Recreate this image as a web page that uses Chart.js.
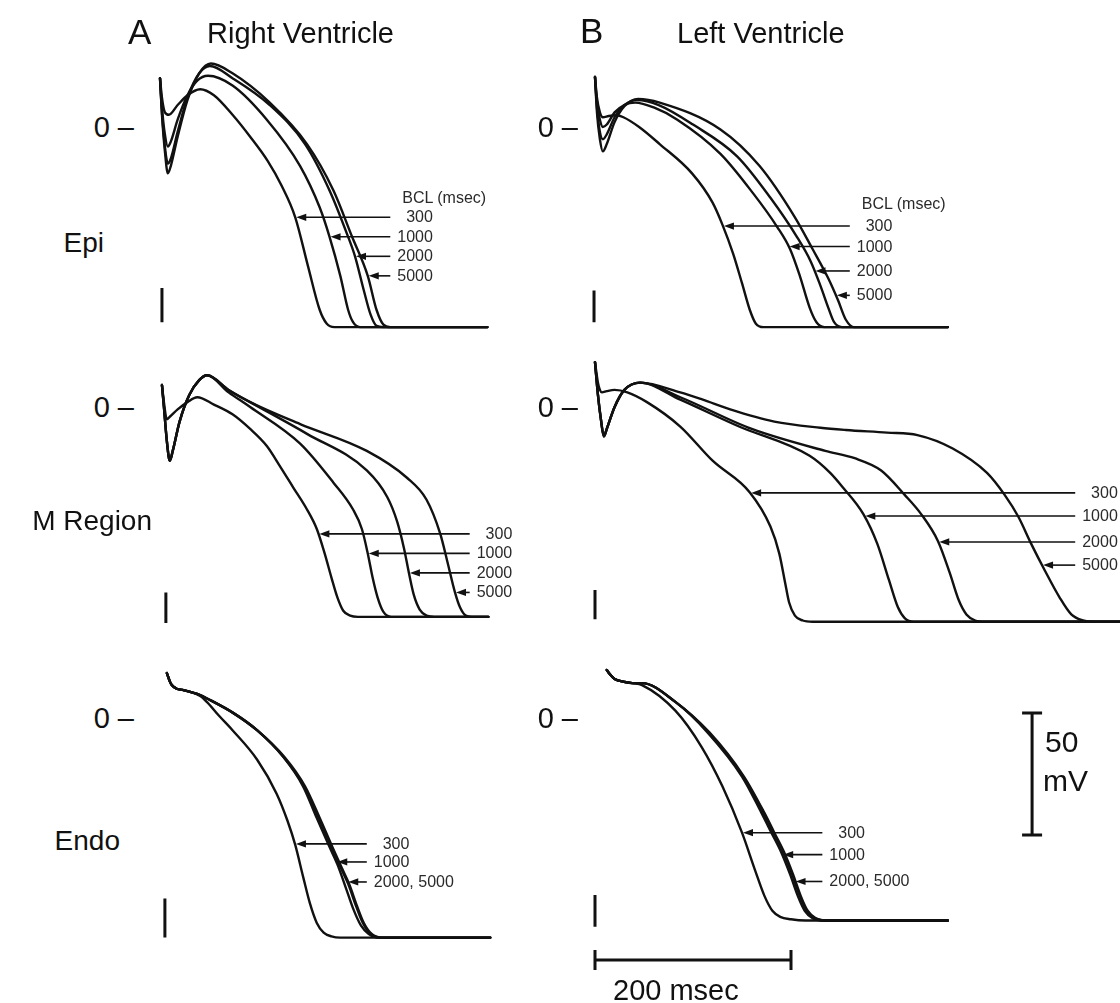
<!DOCTYPE html>
<html><head><meta charset="utf-8">
<script src="https://cdn.jsdelivr.net/npm/chart.js@4.4.1/dist/chart.umd.min.js"></script>
<style>
html,body{margin:0;padding:0;background:#fff;}
#fig{position:relative;width:1120px;height:1003px;overflow:hidden;font-family:"Liberation Sans",Arial,Helvetica,sans-serif;color:#111;}
#fig canvas{position:absolute;}
.t{position:absolute;white-space:nowrap;line-height:1;}
</style></head><body><div id="fig"></div>
<script>
// ---------------- DATA (time in ms after stimulus, membrane potential in mV) ----------------
// Right ventricle, epicardium
const rvEpi300  = [[0,20],[2,12],[5,6],[9,5],[18,9],[28,13],[41,15.5],[55,13],[74,5],[92,-4],[110,-14],[124,-24],[138,-37],[151,-57],[163,-75],[170,-80.5],[178,-82],[334,-82]];
const rvEpi1000 = [[0,20],[2,8],[5,-3],[8,-8],[11,-6],[18,3],[28,13],[38,19],[49,21],[74,17],[109,3],[143,-16],[163,-33],[173,-45],[184,-61],[192,-75],[197,-80],[204,-82],[334,-82]];
const rvEpi2000 = [[0,20],[2,6],[5,-8],[8,-15],[11,-13],[18,-2],[28,12],[40,22],[51,25],[74,20],[112,9],[148,-7],[173,-26],[191,-44],[199,-53],[208,-67],[215,-77],[221,-81.5],[228,-82],[334,-82]];
const rvEpi5000 = [[0,20],[2,5],[5,-10],[8,-19],[11,-16],[18,-4],[28,11],[40,22],[52,26],[74,22],[112,10],[150,-7],[177,-26],[196,-45],[212,-61],[221,-75],[228,-81],[235,-82],[334,-82]];
// Left ventricle, epicardium
const lvEpi300  = [[0,20.5],[2,12],[5,6],[8,4],[14,4.5],[22,4.8],[29,4],[45,0],[66,-7],[99,-19],[120,-31],[130,-40],[141,-52],[150,-64],[158,-75],[164,-80.5],[172,-82],[360,-82]];
const lvEpi1000 = [[0,20.5],[2,10],[5,3],[8,0],[12,1],[20,6],[30,9],[41,10],[60,8],[84,3],[128,-11],[161,-27],[186,-41],[199,-50],[209,-61],[219,-74],[226,-80],[234,-82],[360,-82]];
const lvEpi2000 = [[0,20.5],[2,8],[5,-2],[8,-5],[12,-3],[20,4],[30,9],[43,11],[65,9],[100,1],[145,-12],[179,-29],[206,-45],[220,-55],[230,-65],[238,-74],[244,-80],[252,-82],[360,-82]];
const lvEpi5000 = [[0,20.5],[2,6],[5,-5],[8,-10],[12,-7],[20,2],[30,8.5],[44,11.5],[66,10],[128,-1],[168,-16],[204,-37],[222,-50],[238,-62],[248,-71],[256,-79],[264,-82],[360,-82]];
// Right ventricle, M region
const rvM300  = [[2,9],[4,2],[7,-5],[10,-4],[18,-1],[28,2],[38,4],[55,1],[74,-3],[92,-9],[109,-16],[122,-24],[136,-33],[150,-42],[160,-50],[168,-60],[175,-70],[181,-78],[187,-83.5],[194,-85.5],[202,-86],[335,-86]];
const rvM1000 = [[2,9],[4,0],[7,-14],[10,-22],[13,-18],[20,-6],[30,5],[40,11],[48,13],[70,6],[92,0],[143,-15],[177,-31],[197,-42],[206,-50],[212,-60],[217,-70],[222,-78],[228,-84],[236,-86],[335,-86]];
const rvM2000 = [[2,9],[4,0],[7,-14],[10,-22],[13,-18],[20,-6],[30,5],[40,11],[48,13],[70,7],[92,2],[150,-11],[211,-26],[232,-37],[242,-47],[249,-58],[254,-68],[259,-77],[265,-83],[272,-85.5],[280,-86],[335,-86]];
const rvM5000 = [[2,9],[4,0],[7,-14],[10,-22],[13,-18],[20,-6],[30,5],[40,11],[48,13],[70,7],[92,2],[143,-7],[211,-18],[252,-29],[272,-38],[286,-52],[293,-63],[301,-76],[306,-82],[312,-85.5],[318,-86],[335,-86]];
// Left ventricle, M region
const lvM300  = [[0,18.4],[3,10],[5,7],[7,6],[12,6.5],[20,7],[33,6],[53,2],[87,-8],[120,-22],[158,-35],[179,-49],[188,-60],[194,-72],[198,-80],[204,-85.5],[212,-87.5],[222,-88],[536,-88]];
const lvM1000 = [[0,18.4],[3,5],[6,-5],[9,-12],[12,-9],[20,0],[30,7],[46,10],[87,3],[147,-8],[219,-20],[240,-27],[253,-33],[274,-44],[288,-56],[300,-71],[309,-82],[316,-86.5],[325,-88],[536,-88]];
const lvM2000 = [[0,18.4],[3,5],[6,-5],[9,-12],[12,-9],[20,0],[30,7],[46,10],[87,4],[160,-9],[235,-18],[265,-21],[292,-26],[316,-36],[333,-44],[350,-55],[362,-68],[371,-79],[379,-85],[388,-87.5],[398,-88],[536,-88]];
const lvM5000 = [[0,18.4],[3,5],[6,-5],[9,-12],[12,-9],[20,0],[30,7],[46,10],[87,6],[110,3],[138,-1],[183,-6],[230,-8.5],[256,-9.4],[298,-10.5],[329,-11.5],[365,-17],[400,-27],[418,-36],[432,-45],[445,-56],[459,-67],[474,-78],[486,-85],[498,-87.5],[510,-88],[536,-88]];
// Right ventricle, endocardium
const rvEndo300  = [[7,18.4],[10,15],[12,13.5],[17,12],[23,11.5],[41,9],[48,6.5],[60,1],[74,-5],[99,-17],[119,-31],[130,-42],[138,-52],[146,-65],[153,-76],[160,-84],[167,-88],[175,-89.5],[184,-90],[337,-90]];
const rvEndo1000 = [[7,18.4],[10,15],[12,13.5],[17,12],[23,11.5],[41,9.4],[48,8],[75,2],[99,-5],[126,-16],[146,-28],[160,-41],[172,-52],[181,-60],[190,-70],[197,-78],[205,-85],[213,-88.5],[224,-90],[337,-90]];
const rvEndo2000 = [[7,18.4],[10,15],[12,13.5],[17,12],[23,11.5],[41,9.4],[48,8],[75,2],[99,-5],[126,-16],[147,-28],[162,-41],[175,-53],[184,-61],[192,-68],[200,-77],[207,-84],[215,-88.5],[226,-90],[337,-90]];
const rvEndo5000 = [[7,18.4],[10,15],[12,13.5],[17,12],[23,11.5],[41,9.4],[48,8],[75,2],[99,-5],[127,-16],[148,-28],[163,-41],[176,-53],[185,-61],[193,-68],[201,-77],[208,-84],[216,-88.5],[227,-90],[337,-90]];
// Left ventricle, endocardium
const lvEndo300  = [[12,19.7],[15,18],[20,16],[30,14.8],[38,14.3],[48,13.5],[82,3],[109,-12],[130,-28],[150,-47],[163,-62],[173,-73],[181,-79],[189,-81.5],[200,-82.5],[215,-83],[360,-83]];
const lvEndo1000 = [[12,19.7],[15,18],[20,16],[30,14.8],[38,14.3],[48,14.3],[82,6.6],[115,-6],[150,-24],[170,-39],[180,-47],[190,-55],[199,-64],[207,-73],[214,-79],[222,-82],[235,-83],[360,-83]];
const lvEndo2000 = [[12,19.7],[15,18],[20,16],[30,14.8],[38,14.3],[48,14.3],[82,6.6],[116,-6],[151,-24],[172,-39],[182,-47],[192,-55],[201,-64],[209,-73],[216,-79],[224,-82],[237,-83],[360,-83]];
const lvEndo5000 = [[12,19.7],[15,18],[20,16],[30,14.8],[38,14.3],[48,14.3],[82,6.6],[117,-6],[152,-24],[173,-39],[183,-47],[193,-55],[202,-64],[210,-73],[217,-79],[225,-82],[238,-83],[360,-83]];

// Arrow levels (mV) pointing at each BCL trace, and labels
const rvEpiArrowV  = [-37, -45, -53, -61];
const lvEpiArrowV  = [-40.6, -49, -59, -69];
const rvMArrowV    = [-52, -60, -68, -76];
const lvMArrowV    = [-35.2, -44.7, -55.3, -64.8];
const rvEndoArrowV = [-51.6, -59, -67.2];
const lvEndoArrowV = [-47, -56, -67];
const bclLabels  = ['300', '1000', '2000', '5000'];
const endoLabels = ['300', '1000', '2000, 5000'];
const bclHeader  = 'BCL (msec)';
const timeBarMs = 200;
const voltBarMv = 50;

// ---------------- LAYOUT ----------------
const INK = '#111';
const PX_PER_MS = 0.98, PX_PER_MV = 2.44;
const fig = document.getElementById('fig');

const panels = [
  {curves:[rvEpi300,rvEpi1000,rvEpi2000,rvEpi5000], arrowsV:rvEpiArrowV, labels:bclLabels, header:bclHeader, headerV:-29,
   left:140, top:50, w:400, h:295, x0:160, y0:127, tailT:235, stim:[2,-66,-80], zeroRight:134},
  {curves:[lvEpi300,lvEpi1000,lvEpi2000,lvEpi5000], arrowsV:lvEpiArrowV, labels:bclLabels, header:bclHeader, headerV:-31.6,
   left:540, top:50, w:580, h:295, x0:595, y0:127, tailT:260, stim:[-1,-67,-80], zeroRight:578},
  {curves:[rvM300,rvM1000,rvM2000,rvM5000], arrowsV:rvMArrowV, labels:bclLabels,
   left:140, top:345, w:400, h:295, x0:160, y0:407, tailT:316, stim:[6,-76,-88.5], zeroRight:134},
  {curves:[lvM300,lvM1000,lvM2000,lvM5000], arrowsV:lvMArrowV, labels:bclLabels,
   left:540, top:345, w:580, h:295, x0:595, y0:407, tailT:490, stim:[0,-75,-87], zeroRight:578},
  {curves:[rvEndo300,rvEndo1000,rvEndo2000,rvEndo5000], arrowsV:rvEndoArrowV, labels:endoLabels,
   left:140, top:640, w:400, h:363, x0:160, y0:718, tailT:211, stim:[5,-74,-90], zeroRight:134},
  {curves:[lvEndo300,lvEndo1000,lvEndo2000,lvEndo5000], arrowsV:lvEndoArrowV, labels:endoLabels,
   left:540, top:640, w:580, h:363, x0:595, y0:718, tailT:232, stim:[0,-72.5,-85.6], zeroRight:578, scaleBars:true}
];

const measureCtx = document.createElement('canvas').getContext('2d');
function textWidth(txt, size){ measureCtx.font = size + 'px "Liberation Sans", Arial, sans-serif'; return measureCtx.measureText(txt).width; }

function addText(txt, x, y, size, align, color){
  const d = document.createElement('div');
  d.className = 't';
  d.textContent = txt;
  d.style.fontSize = size + 'px';
  d.style.left = x + 'px';
  d.style.top = y + 'px';
  if (color) d.style.color = color;
  d.style.transform = (align === 'right' ? 'translate(-100%,-50%)' : 'translate(0,-50%)');
  fig.appendChild(d);
  return d;
}

function crossT(curve, v){
  for (let i = curve.length - 1; i > 0; i--){
    const [t1, v1] = curve[i-1], [t2, v2] = curve[i];
    if (v1 !== v2 && (v1 - v) * (v2 - v) <= 0) return t1 + (v - v1) * (t2 - t1) / (v2 - v1);
  }
  return curve[0][0];
}

const HEAD = 10, HW = 3.6, SMALL = 16;

function buildPanel(p){
  const cv = document.createElement('canvas');
  cv.width = p.w; cv.height = p.h;
  cv.style.left = p.left + 'px'; cv.style.top = p.top + 'px';
  cv.style.width = p.w + 'px'; cv.style.height = p.h + 'px';
  fig.appendChild(cv);

  const xmin = (p.left - p.x0) / PX_PER_MS, xmax = (p.left + p.w - p.x0) / PX_PER_MS;
  const ymax = (p.y0 - p.top) / PX_PER_MV, ymin = (p.y0 - p.top - p.h) / PX_PER_MV;

  const datasets = p.curves.map(c => ({
    data: c.map(([x, y]) => ({x, y})),
    borderColor: INK, borderWidth: 2.4, pointRadius: 0,
    cubicInterpolationMode: 'monotone', fill: false,
    borderJoinStyle: 'round', borderCapStyle: 'round'
  }));
  datasets.push({
    data: [{x:p.stim[0], y:p.stim[1]}, {x:p.stim[0], y:p.stim[2]}],
    borderColor: INK, borderWidth: 3, pointRadius: 0, tension: 0, fill: false, borderCapStyle: 'butt'
  });

  const annot = {
    id: 'annot',
    afterDatasetsDraw(chart){
      const ctx = chart.ctx, xs = chart.scales.x, ys = chart.scales.y;
      ctx.save();
      ctx.strokeStyle = INK; ctx.fillStyle = INK; ctx.lineWidth = 1.6;
      p.arrowsV.forEach((v, i) => {
        const tip = crossT(p.curves[i], v);
        const y = ys.getPixelForValue(v), xt = xs.getPixelForValue(tip) + 1, xl = xs.getPixelForValue(p.tailT);
        ctx.beginPath(); ctx.moveTo(xl, y); ctx.lineTo(xt + HEAD * 0.7, y); ctx.stroke();
        ctx.beginPath(); ctx.moveTo(xt, y); ctx.lineTo(xt + HEAD, y - HW); ctx.lineTo(xt + HEAD, y + HW); ctx.closePath(); ctx.fill();
      });
      if (p.scaleBars){
        ctx.lineWidth = 3; ctx.lineCap = 'butt';
        const by = ys.getPixelForValue(-99.2), bx0 = xs.getPixelForValue(0), bx1 = xs.getPixelForValue(timeBarMs);
        ctx.beginPath(); ctx.moveTo(bx0, by); ctx.lineTo(bx1, by);
        ctx.moveTo(bx0, by - 10); ctx.lineTo(bx0, by + 10);
        ctx.moveTo(bx1, by - 10); ctx.lineTo(bx1, by + 10); ctx.stroke();
        const vx = xs.getPixelForValue(446), vy0 = ys.getPixelForValue(2), vy1 = ys.getPixelForValue(2 - voltBarMv);
        ctx.beginPath(); ctx.moveTo(vx, vy0); ctx.lineTo(vx, vy1);
        ctx.moveTo(vx - 10, vy0); ctx.lineTo(vx + 10, vy0);
        ctx.moveTo(vx - 10, vy1); ctx.lineTo(vx + 10, vy1); ctx.stroke();
      }
      ctx.restore();
    }
  };

  const chart = new Chart(cv, {
    type: 'line',
    data: {datasets},
    options: {
      responsive: false, animation: false, events: [],
      layout: {padding: 0},
      plugins: {legend: {display: false}, tooltip: {enabled: false}, title: {display: false}},
      scales: {
        x: {type: 'linear', display: false, min: xmin, max: xmax},
        y: {type: 'linear', display: false, min: ymin, max: ymax}
      }
    },
    plugins: [annot]
  });

  // DOM text tied to the chart scales
  const xs = chart.scales.x, ys = chart.scales.y;
  const px = t => p.left + xs.getPixelForValue(t);
  const py = v => p.top + ys.getPixelForValue(v);
  addText('0 \u2013', p.zeroRight, py(0), 29, 'right');
  const labLeft = px(p.tailT) + 7;
  const w4 = textWidth('1000', SMALL);
  p.labels.forEach((lab, i) => {
    const w = textWidth(lab, SMALL);
    const x = lab.length < 4 ? labLeft + (w4 - w) : labLeft;
    addText(lab, x, py(p.arrowsV[i]), SMALL, 'left', '#2a2a2a');
  });
  if (p.header) addText(p.header, px(p.tailT) + 12, py(p.headerV), SMALL, 'left', '#2a2a2a');
  if (p.scaleBars){
    addText(timeBarMs + ' msec', px(0) + 18, 990, 29, 'left');
    addText(String(voltBarMv), px(446) + 13, py(2 - voltBarMv * 0.24), 30, 'left');
    addText('mV', px(446) + 11, py(2 - voltBarMv * 0.56), 30, 'left');
  }
}

panels.forEach(buildPanel);

// Titles and row labels
addText('A', 128, 31, 35, 'left');
addText('Right Ventricle', 207, 33, 29, 'left');
addText('B', 580, 30, 35, 'left');
addText('Left Ventricle', 677, 33, 29, 'left');
addText('Epi', 104, 243, 28, 'right');
addText('M Region', 152, 521, 28, 'right');
addText('Endo', 120, 841, 28, 'right');
</script></body></html>
